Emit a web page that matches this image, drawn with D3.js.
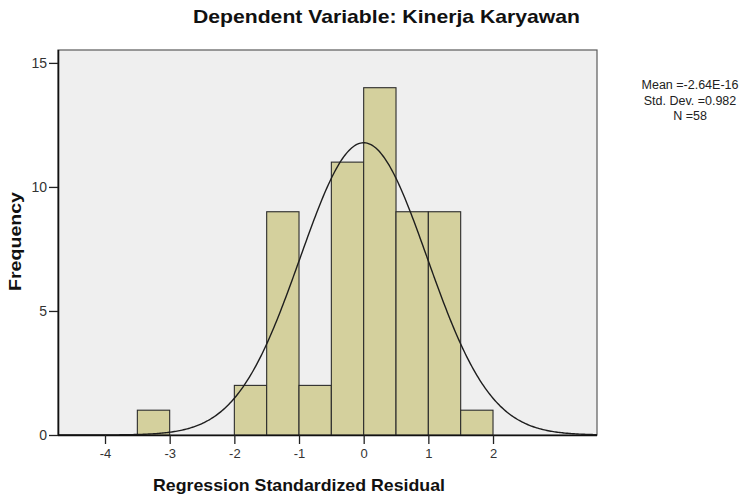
<!DOCTYPE html>
<html>
<head>
<meta charset="utf-8">
<script src="https://cdn.jsdelivr.net/npm/d3@7"></script>
<style>
  body { margin: 0; background: #fff; }
  svg { display: block; font-family: "Liberation Sans", Arial, sans-serif; }
</style>
</head>
<body>
<div id="chart"></div>
<script>
// histogram bins (left edge), bin width 0.5
const binStarts = [-3.5, -2, -1.5, -1, -0.5, 0, 0.5, 1, 1.5];
const counts = [1, 2, 9, 2, 11, 14, 9, 9, 1];
const binWidth = 0.5;

const xTicks = [-4, -3, -2, -1, 0, 1, 2];
const yTicks = [0, 5, 10, 15];

// summary stats shown in the legend
const statMean = -2.64e-16;
const statSd = 0.982;
const statN = 58;
const statLabels = ["Mean =-2.64E-16", "Std. Dev. =0.982", "N =58"];

const width = 749, height = 502;
const plot = { left: 58, right: 597, top: 50, bottom: 435 };

const svg = d3.select("#chart").append("svg")
  .attr("width", width)
  .attr("height", height);

const x = d3.scaleLinear()
  .domain([-4.727, 3.608])
  .range([plot.left, plot.right]);

const y = d3.scaleLinear()
  .domain([0, 15.52])
  .range([plot.bottom, plot.top]);

// plot background
svg.append("rect")
  .attr("x", plot.left)
  .attr("y", plot.top)
  .attr("width", plot.right - plot.left)
  .attr("height", plot.bottom - plot.top)
  .attr("fill", "#efefef")
  .attr("stroke", "#5a5a5a")
  .attr("stroke-width", 1.2);

svg.append("defs").append("clipPath")
  .attr("id", "clip")
  .append("rect")
  .attr("x", plot.left)
  .attr("y", plot.top)
  .attr("width", plot.right - plot.left)
  .attr("height", plot.bottom - plot.top);

// bars
const bins = binStarts.map((s, i) => ({ x0: s, x1: s + binWidth, n: counts[i] }));
svg.append("g")
  .selectAll("rect")
  .data(bins)
  .join("rect")
  .attr("x", d => x(d.x0))
  .attr("y", d => y(d.n))
  .attr("width", d => x(d.x1) - x(d.x0))
  .attr("height", d => y(0) - y(d.n))
  .attr("fill", "#d4d09d")
  .attr("stroke", "#2b2b2b")
  .attr("stroke-width", 1.1);

// normal curve scaled to the histogram
const pdf = v => Math.exp(-0.5 * ((v - statMean) / statSd) ** 2) / (statSd * Math.sqrt(2 * Math.PI));
const curvePts = d3.range(x.domain()[0], x.domain()[1] + 0.01, 0.02)
  .map(v => [v, statN * binWidth * pdf(v)]);

svg.append("path")
  .datum(curvePts)
  .attr("clip-path", "url(#clip)")
  .attr("fill", "none")
  .attr("stroke", "#1e1e1e")
  .attr("stroke-width", 1.4)
  .attr("d", d3.line().x(d => x(d[0])).y(d => y(d[1])));

// axes
const xAxis = svg.append("g")
  .attr("transform", `translate(0,${plot.bottom})`)
  .call(d3.axisBottom(x).tickValues(xTicks).tickFormat(d => String(d))
    .tickSize(9).tickPadding(5).tickSizeOuter(0));
const yAxis = svg.append("g")
  .attr("transform", `translate(${plot.left},0)`)
  .call(d3.axisLeft(y).tickValues(yTicks).tickFormat(d => String(d))
    .tickSize(9).tickPadding(2).tickSizeOuter(0));

[xAxis, yAxis].forEach(a => {
  a.select(".domain").attr("stroke", "#111").attr("stroke-width", 1.6);
  a.selectAll(".tick line").attr("stroke", "#222").attr("stroke-width", 1.3);
  a.selectAll(".tick text")
    .attr("fill", "#333")
    .style("font-family", "'Liberation Sans', Arial, sans-serif")
    .style("font-size", "13px");
});
yAxis.selectAll(".tick text").style("font-size", "14px");
xAxis.select(".domain").attr("d", `M${plot.left},0.5H${plot.right}`);
yAxis.select(".domain").attr("d", `M0.5,${plot.top}V${plot.bottom}`);

// title and axis labels
svg.append("text")
  .attr("x", 386.5)
  .attr("y", 23)
  .attr("text-anchor", "middle")
  .attr("font-size", 19)
  .attr("font-weight", "bold")
  .attr("fill", "#111")
  .attr("textLength", 387)
  .attr("lengthAdjust", "spacingAndGlyphs")
  .text("Dependent Variable: Kinerja Karyawan");

svg.append("text")
  .attr("x", 299)
  .attr("y", 491)
  .attr("text-anchor", "middle")
  .attr("font-size", 17)
  .attr("font-weight", "bold")
  .attr("fill", "#111")
  .attr("textLength", 292)
  .attr("lengthAdjust", "spacingAndGlyphs")
  .text("Regression Standardized Residual");

svg.append("text")
  .attr("transform", "translate(20.7,241.5) rotate(-90)")
  .attr("text-anchor", "middle")
  .attr("font-size", 16)
  .attr("font-weight", "bold")
  .attr("fill", "#111")
  .attr("textLength", 99)
  .attr("lengthAdjust", "spacingAndGlyphs")
  .text("Frequency");

// legend stats
svg.append("g")
  .selectAll("text")
  .data(statLabels)
  .join("text")
  .attr("x", 690)
  .attr("y", (d, i) => 89 + i * 15.5)
  .attr("text-anchor", "middle")
  .attr("font-size", 12.5)
  .attr("fill", "#222")
  .text(d => d);
</script>
</body>
</html>
